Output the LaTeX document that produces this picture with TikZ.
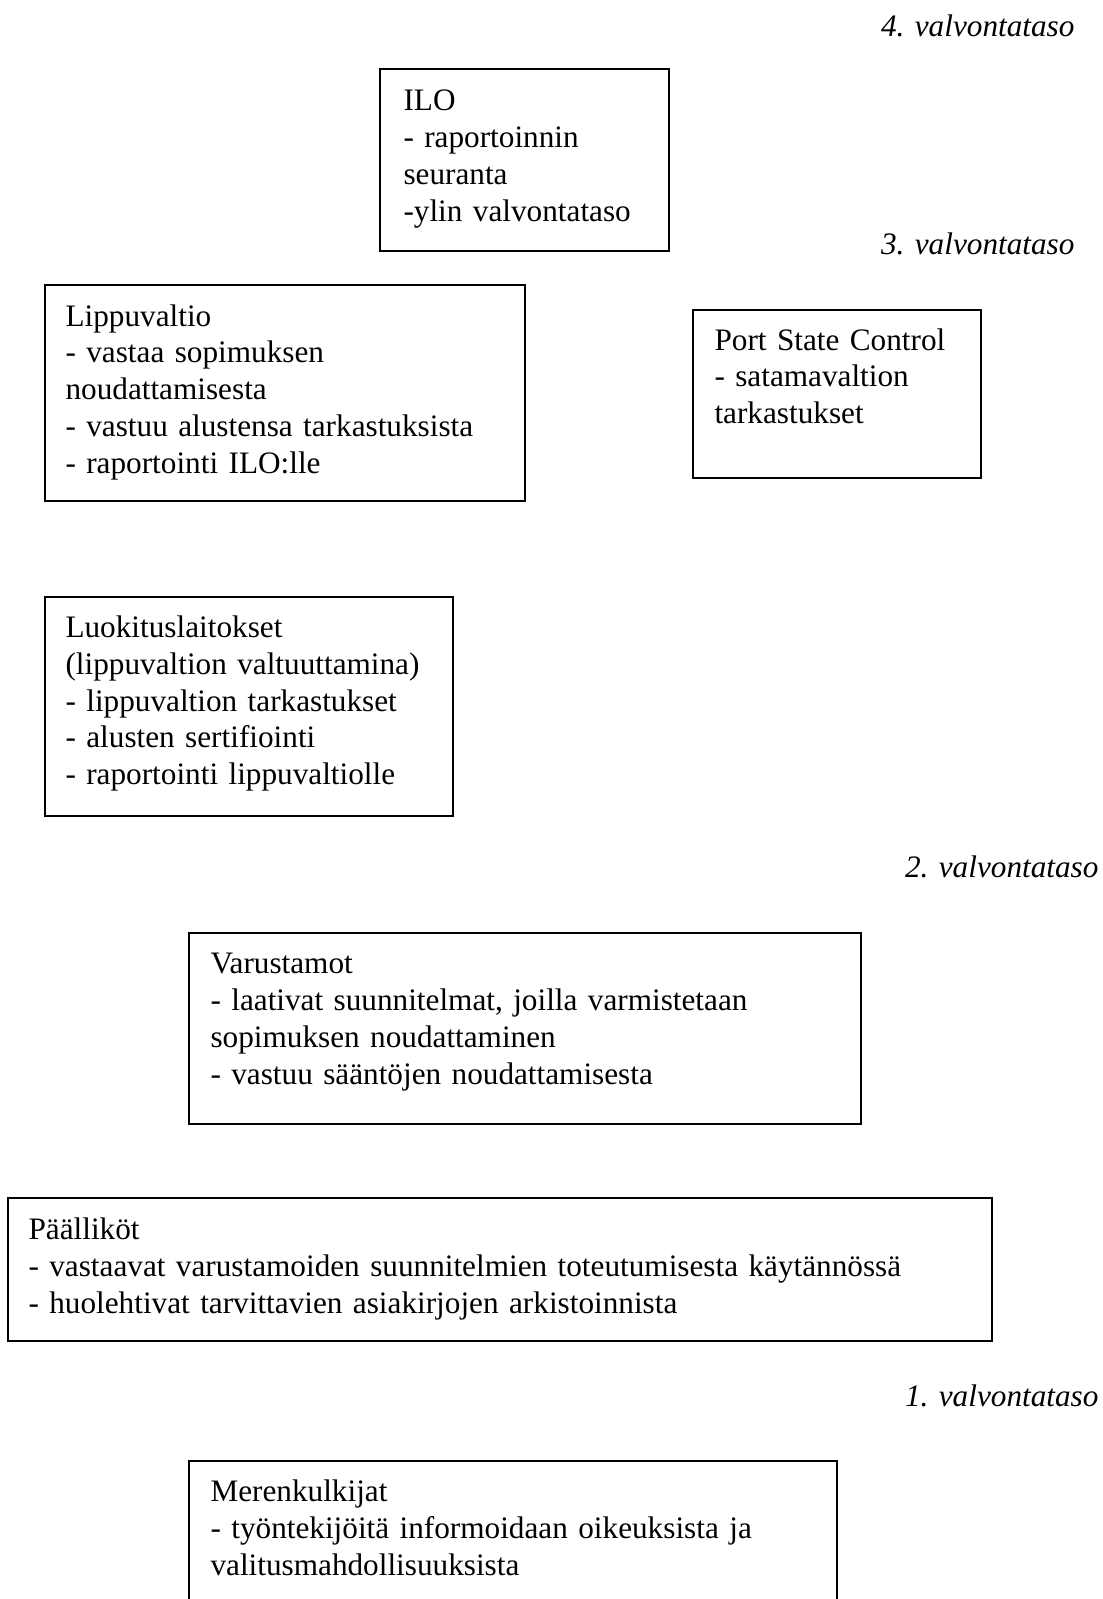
\documentclass[tikz,border=0pt]{standalone}
\usepackage{fontspec}
\setmainfont{Liberation Serif}
\usepackage{tikz}

\begin{document}
\begin{tikzpicture}[x=0.373pt,y=-0.373pt,
  laatikko/.style={line width=0.7pt},
  teksti/.style={anchor=base west,inner sep=0pt,align=left,text width=400pt,
                 font=\fontsize{11.65pt}{13.8pt}\selectfont},
  taso/.style={anchor=base east,inner sep=0pt,font=\fontsize{11.65pt}{13.8pt}\selectfont\itshape}]
\useasboundingbox (0,0) rectangle (1103,1599);
\clip (0,0) rectangle (1103,1599);

% valvontatasot
\node[taso] (taso4) at (1075,37) {4. valvontataso};
\node[taso] (taso3) at (1075,254) {3. valvontataso};
\node[taso] (taso2) at (1099,877) {2. valvontataso};
\node[taso] (taso1) at (1099,1406) {1. valvontataso};

% laatikot
\draw[laatikko] (380,69) rectangle (669,251)
                (45,285) rectangle (525,501)
                (693,310) rectangle (981,478)
                (45,597) rectangle (453,816)
                (189,933) rectangle (861,1124)
                (8,1198) rectangle (992,1341)
                (189,1461) rectangle (837,1700);

\node[teksti] (ilo) at (403,111) {ILO\\- raportoinnin\\seuranta\\-ylin valvontataso};
\node[teksti] (lippu) at (65,326) {Lippuvaltio\\- vastaa sopimuksen\\noudattamisesta\\- vastuu alustensa tarkastuksista\\- raportointi ILO:lle};
\node[teksti] (psc) at (714,350) {Port State Control\\- satamavaltion\\tarkastukset};
\node[teksti] (luokitus) at (65,637) {Luokituslaitokset\\(lippuvaltion valtuuttamina)\\- lippuvaltion tarkastukset\\- alusten sertifiointi\\- raportointi lippuvaltiolle};
\node[teksti] (varustamot) at (210,973) {Varustamot\\- laativat suunnitelmat, joilla varmistetaan\\sopimuksen noudattaminen\\- vastuu sääntöjen noudattamisesta};
\node[teksti] (paalliko) at (28,1239) {Päälliköt\\- vastaavat varustamoiden suunnitelmien toteutumisesta käytännössä\\- huolehtivat tarvittavien asiakirjojen arkistoinnista};
\node[teksti] (merenkulkijat) at (210,1501) {Merenkulkijat\\- työntekijöitä informoidaan oikeuksista ja\\valitusmahdollisuuksista};
\end{tikzpicture}
\end{document}
